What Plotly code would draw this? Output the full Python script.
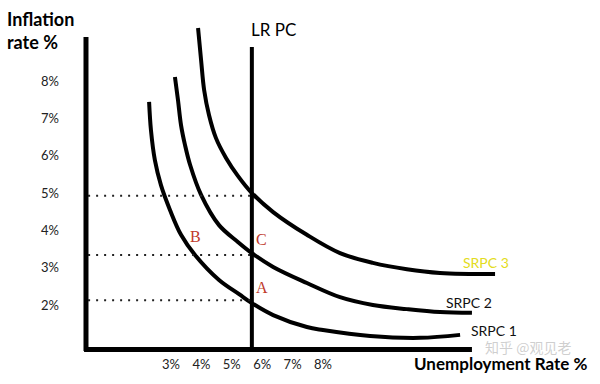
import plotly.graph_objects as go

# ---- data ----
y_tick_vals = [2, 3, 4, 5, 6, 7, 8]
y_tick_text = ["2%", "3%", "4%", "5%", "6%", "7%", "8%"]
x_tick_vals = [3, 4, 5, 6, 7, 8]
x_tick_text = ["3%", "4%", "5%", "6%", "7%", "8%"]

srpc1_u = [2.28, 2.34, 2.47, 2.67, 2.97, 3.33, 3.79, 4.58, 5.24, 5.66, 6.36, 7.47, 8.00, 9.55, 11.19, 12.51]
srpc1_i = [7.44, 6.69, 5.88, 5.21, 4.54, 3.88, 3.34, 2.67, 2.29, 2.05, 1.73, 1.41, 1.33, 1.17, 1.12, 1.20]

srpc2_u = [3.13, 3.23, 3.33, 3.46, 3.63, 3.99, 4.58, 5.20, 5.66, 6.36, 7.47, 8.56, 9.64, 10.76, 11.85, 12.90]
srpc2_i = [8.11, 7.49, 6.82, 6.29, 5.75, 4.95, 4.14, 3.69, 3.39, 3.02, 2.59, 2.21, 2.00, 1.89, 1.81, 1.79]

srpc3_u = [3.89, 3.99, 4.09, 4.25, 4.48, 4.81, 5.20, 5.66, 6.36, 7.47, 8.56, 9.64, 10.76, 11.85, 13.66]
srpc3_i = [9.42, 8.56, 7.76, 7.09, 6.47, 5.94, 5.46, 5.00, 4.49, 3.88, 3.39, 3.13, 2.96, 2.86, 2.83]

lrpc_u = 5.66
lrpc_i = [8.91, 0.82]

dotted_levels = [4.93, 3.34, 2.13]

point_names = ["A", "B", "C"]
point_u = [5.99, 3.82, 5.99]
point_i = [2.46, 3.84, 3.76]

curve_names = ["SRPC 1", "SRPC 2", "SRPC 3"]
curve_label_u = [13.62, 12.80, 13.36]
curve_label_i = [1.33, 2.08, 3.15]

# axis extents
x_axis_u = [0.14, 12.90]
x_axis_i = 0.808
y_axis_u = 0.204
y_axis_i = [0.77, 9.18]

fig = go.Figure()

for u, i in [(srpc1_u, srpc1_i), (srpc2_u, srpc2_i), (srpc3_u, srpc3_i)]:
    fig.add_trace(go.Scatter(x=u, y=i, mode="lines",
                             line=dict(color="black", width=4, shape="spline", smoothing=1.0),
                             hoverinfo="skip", showlegend=False))

fig.add_trace(go.Scatter(x=[lrpc_u, lrpc_u], y=lrpc_i, mode="lines",
                         line=dict(color="black", width=4), showlegend=False, hoverinfo="skip"))

for lv in dotted_levels:
    fig.add_trace(go.Scatter(x=[y_axis_u + 0.07, lrpc_u], y=[lv, lv], mode="lines",
                             line=dict(color="#222222", width=2, dash="2px,6px"),
                             showlegend=False, hoverinfo="skip"))

# axes lines
fig.add_shape(type="line", x0=x_axis_u[0], x1=x_axis_u[1], y0=x_axis_i, y1=x_axis_i,
              line=dict(color="black", width=5))
fig.add_shape(type="line", x0=y_axis_u, x1=y_axis_u, y0=y_axis_i[0], y1=y_axis_i[1],
              line=dict(color="black", width=5))

for n, u, i in zip(point_names, point_u, point_i):
    fig.add_annotation(x=u, y=i, text=n, showarrow=False, xanchor="center", yanchor="middle",
                       font=dict(family="Liberation Serif", size=16, color="#c0392b"))

label_colors = ["#111111", "#111111", "#e3dc20"]
for n, u, i, c in zip(curve_names, curve_label_u, curve_label_i, label_colors):
    fig.add_annotation(x=u, y=i, text=n, showarrow=False, xanchor="center", yanchor="middle",
                       font=dict(family="Lato", size=14, color=c))

fig.add_annotation(x=6.36, y=9.39, text="LR PC", showarrow=False, xanchor="center", yanchor="middle",
                   font=dict(family="Lato", size=17, color="black"))

# axis titles
fig.add_annotation(xref="paper", yref="paper", x=-0.102, y=1 - 19 / 355, xanchor="left",
                   yanchor="middle", text="<b>Inflation</b>", showarrow=False,
                   font=dict(family="Lato", size=18, color="black"))
fig.add_annotation(xref="paper", yref="paper", x=-0.102, y=1 - 42 / 355, xanchor="left",
                   yanchor="middle", text="<b>rate %</b>", showarrow=False,
                   font=dict(family="Lato", size=18, color="black"))
fig.add_annotation(xref="paper", yref="paper", x=(412 - 60) / 540, y=-8 / 355, xanchor="left",
                   yanchor="middle", text="<b>Unemployment Rate %</b>", showarrow=False,
                   font=dict(family="Lato", size=17, color="black"))
# watermark
fig.add_annotation(xref="paper", yref="paper", x=(528 - 60) / 540, y=8 / 355, showarrow=False,
                   xanchor="center", yanchor="middle", text="知乎 @观见老",
                   font=dict(family="Noto Sans CJK SC", size=14, color="rgba(160,160,160,0.5)"))

fig.update_layout(
    width=600, height=384,
    margin=dict(l=60, r=0, t=0, b=29),
    plot_bgcolor="white", paper_bgcolor="white",
    xaxis=dict(range=[-0.651, 17.112], showgrid=False, zeroline=False, showline=False,
               tickvals=x_tick_vals, ticktext=x_tick_text, ticks="",
               tickfont=dict(family="Lato", size=13, color="#222222")),
    yaxis=dict(range=[0.661, 10.170], showgrid=False, zeroline=False, showline=False,
               tickvals=y_tick_vals, ticktext=y_tick_text, ticks="",
               tickfont=dict(family="Lato", size=13, color="#222222")),
)

fig.write_html("out.html", config={"displayModeBar": False},
               post_script="document.body.style.margin='0';")
